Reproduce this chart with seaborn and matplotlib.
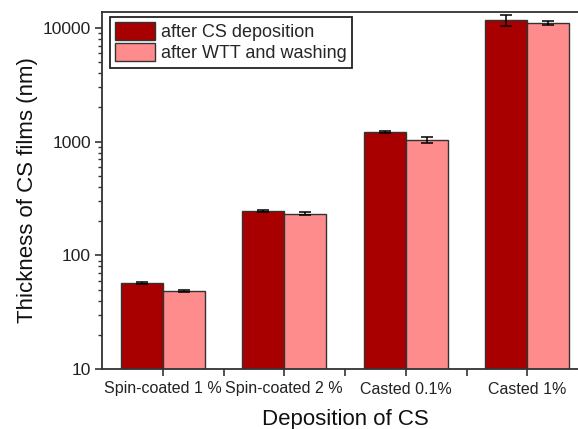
import matplotlib
matplotlib.use("Agg")
import matplotlib.pyplot as plt
from matplotlib.ticker import LogLocator, NullFormatter, FixedLocator
import numpy as np
import pandas as pd
import seaborn as sns

# Film thickness per deposition method (nm)
categories = ["Spin-coated 1 %", "Spin-coated 2 %", "Casted 0.1%", "Casted 1%"]
series = ["after CS deposition", "after WTT and washing"]
after_deposition = [57, 247, 1215, 11700]
after_wtt_washing = [48.5, 233, 1035, 11100]
err_deposition = [1.5, 5, 35, 1400]
err_wtt_washing = [1.2, 5, 60, 400]

colors = ["#A80000", "#FF8C8C"]

df = pd.DataFrame({
    "method": categories * 2,
    "series": [series[0]] * 4 + [series[1]] * 4,
    "thickness": after_deposition + after_wtt_washing,
})

sns.set_theme(style="ticks")
plt.rcParams["font.family"] = ["Liberation Sans", "DejaVu Sans"]

fig = plt.figure(figsize=(5.78, 4.29), dpi=100)
ax = fig.add_axes([102 / 578, 60 / 429, 486 / 578, 357 / 429])

sns.barplot(data=df, x="method", y="thickness", hue="series",
            hue_order=series, order=categories, palette=colors,
            width=0.69, errorbar=None, edgecolor="#333333", linewidth=1.0,
            saturation=1, ax=ax)

ax.set_yscale("log")
ax.set_ylim(10, 13800)
ax.set_xlim(-0.5, 3.5)

# Error bars at the centre of each drawn bar
for cont, errs in zip(ax.containers, [err_deposition, err_wtt_washing]):
    xs = [b.get_x() + b.get_width() / 2 for b in cont]
    ys = [b.get_height() for b in cont]
    ax.errorbar(xs, ys, yerr=errs, fmt="none", ecolor="black",
                elinewidth=1.1, capsize=4.5, capthick=1.1, zorder=5)

# Axes styling
for side in ["left", "right", "top", "bottom"]:
    ax.spines[side].set_visible(True)
    ax.spines[side].set_color("#333333")
    ax.spines[side].set_linewidth(1.3)

ax.set_yticks([10, 100, 1000, 10000])
ax.set_yticklabels(["10", "100", "1000", "10000"])
ax.yaxis.set_minor_locator(LogLocator(base=10, subs=np.arange(2, 10), numticks=20))
ax.yaxis.set_minor_formatter(NullFormatter())
ax.xaxis.set_minor_locator(FixedLocator([0.5, 1.5, 2.5]))

ax.tick_params(axis="y", which="major", direction="out", length=5, width=1.2,
               color="#333333", labelsize=12.5, pad=3, labelcolor="#222222")
ax.tick_params(axis="y", which="minor", direction="out", length=3, width=1.0,
               color="#333333", left=True)
ax.tick_params(axis="x", which="major", direction="out", length=5, width=1.2,
               color="#333333", labelsize=11.5, pad=4, labelcolor="#222222")
ax.tick_params(axis="x", which="minor", direction="out", length=5, width=1.2,
               color="#333333", bottom=True)

ax.set_xlabel("Deposition of CS", fontsize=16, labelpad=9, color="#111111")
ax.set_ylabel("Thickness of CS films (nm)", fontsize=16, labelpad=3, color="#111111")

leg = ax.legend(loc="upper left", bbox_to_anchor=(0.0165, 0.986),
                borderaxespad=0, fontsize=13, frameon=True, fancybox=False,
                handlelength=2.2, handleheight=1.1, handletextpad=0.3,
                labelspacing=0.12, borderpad=0.3)
leg.get_frame().set_edgecolor("#222222")
leg.get_frame().set_linewidth(1.3)
leg.get_frame().set_alpha(1)
for h in leg.legend_handles:
    h.set_edgecolor("#333333")
    h.set_linewidth(1.0)

fig.savefig("out.png", dpi=100)
